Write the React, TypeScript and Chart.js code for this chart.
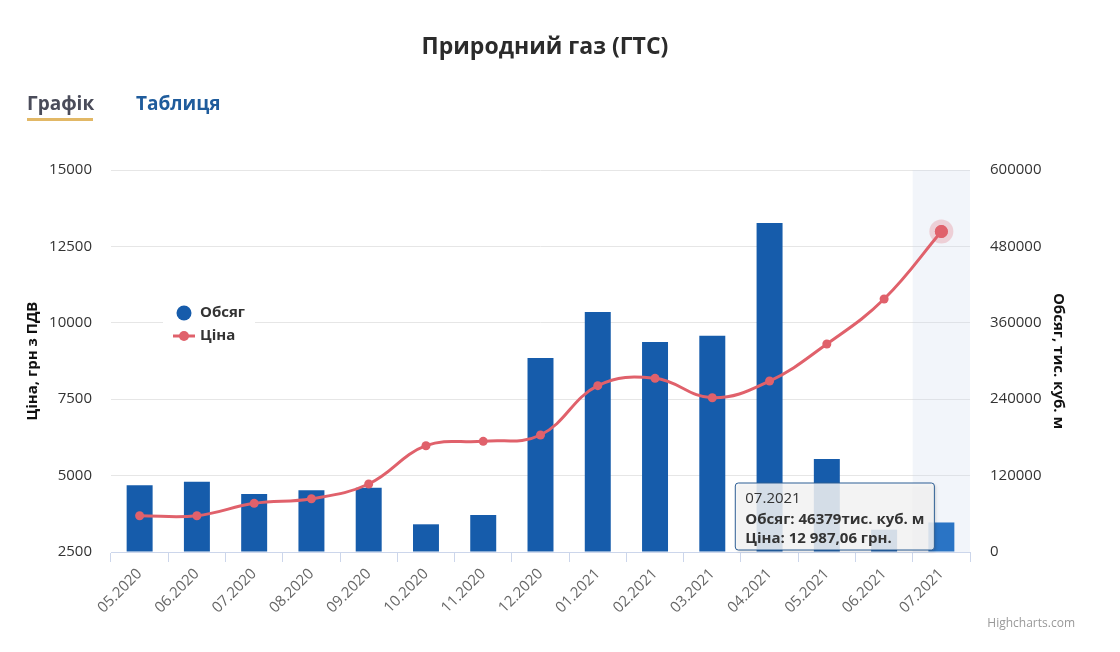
import React, { useEffect, useRef } from 'react';
import { Chart, registerables } from 'chart.js';

Chart.register(...registerables);

const categories = ['05.2020', '06.2020', '07.2020', '08.2020', '09.2020', '10.2020', '11.2020', '12.2020', '01.2021', '02.2021', '03.2021', '04.2021', '05.2021', '06.2021', '07.2021'];
const volumeValues = [104800, 110500, 91100, 96900, 101000, 43500, 58100, 304800, 377000, 330000, 339800, 516900, 146100, 35000, 46379];
const priceValues = [3688, 3688, 4093, 4244, 4725, 5978, 6122, 6328, 7942, 8183, 7548, 8094, 9306, 10778, 12987.06];
const priceTickMin = 2500;
const priceTickMax = 15000;
const priceTickStep = 2500;
const volumeTickMin = 0;
const volumeTickMax = 600000;
const volumeTickStep = 120000;
const activeIndex = 14;

const FONT = "'Open Sans', sans-serif";
const BAR_COLOR = '#165cab';
const BAR_HOVER = '#2a74c5';
const LINE_COLOR = '#e0616b';

function formatPrice(v: number): string {
  const [i, d] = v.toFixed(2).split('.');
  return i.replace(/\B(?=(\d{3})+(?!\d))/g, ' ') + ',' + d;
}

export default function App() {
  const ref = useRef<HTMLCanvasElement>(null);

  useEffect(() => {
    const canvas = ref.current!;

    const highlightPlugin = {
      id: 'highlightBand',
      beforeDatasetsDraw(chart: any) {
        const { ctx, chartArea, scales } = chart;
        const x = scales.x;
        const c = x.getPixelForValue(activeIndex);
        const w = chartArea.width / categories.length;
        ctx.save();
        ctx.fillStyle = 'rgba(204,214,235,0.25)';
        ctx.fillRect(c - w / 2, chartArea.top, w, chartArea.bottom - chartArea.top);
        ctx.restore();
      },
    };

    const haloPlugin = {
      id: 'halo',
      afterDatasetsDraw(chart: any) {
        const pt = chart.getDatasetMeta(1).data[activeIndex];
        if (!pt) return;
        const { ctx } = chart;
        ctx.save();
        ctx.fillStyle = 'rgba(224,97,107,0.25)';
        ctx.beginPath();
        ctx.arc(pt.x, pt.y, 12, 0, Math.PI * 2);
        ctx.fill();
        ctx.fillStyle = LINE_COLOR;
        ctx.beginPath();
        ctx.arc(pt.x, pt.y, 6.5, 0, Math.PI * 2);
        ctx.fill();
        ctx.restore();
      },
    };

    const legendPlugin = {
      id: 'floatLegend',
      afterDraw(chart: any) {
        const { ctx } = chart;
        ctx.save();
        ctx.fillStyle = '#ffffff';
        ctx.fillRect(155, 288, 92, 54);
        ctx.fillStyle = BAR_COLOR;
        ctx.beginPath();
        ctx.arc(176, 305, 7.5, 0, Math.PI * 2);
        ctx.fill();
        ctx.strokeStyle = LINE_COLOR;
        ctx.lineWidth = 3;
        ctx.beginPath();
        ctx.moveTo(165, 328);
        ctx.lineTo(187, 328);
        ctx.stroke();
        ctx.fillStyle = LINE_COLOR;
        ctx.beginPath();
        ctx.arc(176, 328, 5, 0, Math.PI * 2);
        ctx.fill();
        ctx.fillStyle = '#333333';
        ctx.font = `bold 15px ${FONT}`;
        ctx.textBaseline = 'middle';
        ctx.textAlign = 'left';
        ctx.fillText('Обсяг', 192, 305);
        ctx.fillText('Ціна', 192, 328);
        ctx.restore();
      },
    };

    const tooltipPlugin = {
      id: 'fixedTooltip',
      afterDraw(chart: any) {
        const pt = chart.getDatasetMeta(1).data[activeIndex];
        if (!pt) return;
        const { ctx, chartArea } = chart;
        const title = categories[activeIndex];
        const l1 = `Обсяг: ${volumeValues[activeIndex]}тис. куб. м`;
        const l2 = `Ціна: ${formatPrice(priceValues[activeIndex])} грн.`;
        ctx.save();
        ctx.font = `bold 15px ${FONT}`;
        const w1 = Math.max(ctx.measureText(l1).width, ctx.measureText(l2).width);
        ctx.font = `15px ${FONT}`;
        const wt = ctx.measureText(title).width;
        const bw = Math.max(w1, wt) + 20;
        const right = pt.x - 7;
        const left = right - bw;
        const bottom = chartArea.bottom - 2;
        const top = bottom - 67;
        const r = 3;
        const path = () => {
          ctx.beginPath();
          ctx.moveTo(left + r, top);
          ctx.lineTo(right - r, top);
          ctx.arcTo(right, top, right, top + r, r);
          ctx.lineTo(right, bottom - r);
          ctx.arcTo(right, bottom, right - r, bottom, r);
          ctx.lineTo(left + r, bottom);
          ctx.arcTo(left, bottom, left, bottom - r, r);
          ctx.lineTo(left, top + r);
          ctx.arcTo(left, top, left + r, top, r);
          ctx.closePath();
        };
        ctx.shadowColor = 'rgba(0,0,0,0.18)';
        ctx.shadowOffsetX = 1.5;
        ctx.shadowOffsetY = 1.5;
        ctx.shadowBlur = 3;
        path();
        ctx.fillStyle = 'rgba(247,247,247,0.85)';
        ctx.fill();
        ctx.shadowColor = 'transparent';
        ctx.lineWidth = 1;
        ctx.strokeStyle = '#2d5e95';
        path();
        ctx.stroke();
        ctx.fillStyle = '#333333';
        ctx.textAlign = 'left';
        ctx.textBaseline = 'middle';
        ctx.font = `15px ${FONT}`;
        ctx.fillText(title, left + 10, top + 16);
        ctx.font = `bold 15px ${FONT}`;
        ctx.fillText(l1, left + 10, top + 37);
        ctx.fillText(l2, left + 10, top + 56);
        ctx.restore();
      },
    };

    const barColors = categories.map((_, i) => (i === activeIndex ? BAR_HOVER : BAR_COLOR));
    const pointRadii = categories.map((_, i) => (i === activeIndex ? 6.5 : 4.5));

    const chart = new Chart(canvas, {
      type: 'bar',
      data: {
        labels: categories,
        datasets: [
          {
            type: 'bar',
            label: 'Обсяг',
            data: volumeValues,
            yAxisID: 'y1',
            backgroundColor: barColors,
            borderWidth: 0,
            categoryPercentage: 0.8,
            barPercentage: 0.567,
            order: 2,
          },
          {
            type: 'line',
            label: 'Ціна',
            data: priceValues,
            yAxisID: 'y',
            borderColor: LINE_COLOR,
            backgroundColor: LINE_COLOR,
            borderWidth: 3,
            pointRadius: pointRadii,
            pointBackgroundColor: LINE_COLOR,
            pointBorderWidth: 0,
            tension: 0.4,
            order: 1,
          } as any,
        ],
      },
      options: {
        responsive: false,
        animation: false,
        events: [],
        layout: { padding: { top: 162, left: 0, right: 0, bottom: 0 } },
        plugins: {
          legend: { display: false },
          tooltip: { enabled: false },
          title: { display: false },
        },
        scales: {
          x: {
            offset: true,
            afterFit: (s: any) => { s.height = 92; },
            grid: {
              offset: true,
              drawOnChartArea: false,
              drawTicks: true,
              tickLength: 10,
              color: '#ccd6eb',
            },
            border: { display: true, color: '#ccd6eb', width: 1 },
            ticks: {
              minRotation: 45,
              maxRotation: 45,
              autoSkip: false,
              padding: 3,
              color: '#666666',
              font: { family: FONT, size: 15 },
            },
          },
          y: {
            position: 'left',
            min: priceTickMin,
            max: priceTickMax,
            afterFit: (s: any) => { s.width = 103; },
            grid: { color: '#e6e6e6', drawTicks: false, lineWidth: 1 },
            border: { display: false },
            ticks: {
              stepSize: priceTickStep,
              padding: 19,
              color: '#333333',
              font: { family: FONT, size: 15 },
              callback: (v: any) => String(v),
            },
            title: {
              display: true,
              text: 'Ціна, грн з ПДВ',
              color: '#111111',
              font: { family: FONT, size: 15, weight: 'bold' },
              padding: { top: 16, bottom: 0 },
            },
          },
          y1: {
            position: 'right',
            min: volumeTickMin,
            max: volumeTickMax,
            afterFit: (s: any) => { s.width = 142; },
            grid: { drawOnChartArea: false, drawTicks: false },
            border: { display: false },
            ticks: {
              stepSize: volumeTickStep,
              padding: 20,
              color: '#333333',
              font: { family: FONT, size: 15 },
              callback: (v: any) => String(v),
            },
            title: {
              display: true,
              text: 'Обсяг, тис. куб. м',
              color: '#111111',
              font: { family: FONT, size: 15, weight: 'bold' },
              padding: { top: 45, bottom: 0 },
            },
          },
        },
      } as any,
      plugins: [highlightPlugin, haloPlugin, legendPlugin, tooltipPlugin],
    });

    return () => chart.destroy();
  }, []);

  return (
    <div style={{ position: 'relative', width: 1104, height: 636, fontFamily: FONT }}>
      <canvas ref={ref} width={1104} height={636} style={{ position: 'absolute', left: 0, top: 0 }} />
      <div style={{ position: 'absolute', left: 0, top: 22, width: 1074, textAlign: 'center', fontSize: 23, fontWeight: 700, lineHeight: '30px', color: '#2b2b2b' }}>
        Природний газ (ГТС)
      </div>
      <div style={{ position: 'absolute', left: 19, top: 83, fontSize: 19, fontWeight: 700, lineHeight: '24px', color: '#4a4c5a' }}>Графік</div>
      <div style={{ position: 'absolute', left: 19, top: 110, width: 66, height: 3, background: '#e2b866' }} />
      <div style={{ position: 'absolute', left: 128, top: 83, fontSize: 19, fontWeight: 700, lineHeight: '24px', color: '#1f5c9c' }}>Таблиця</div>
      <div style={{ position: 'absolute', left: 900, width: 167, top: 607, textAlign: 'right', fontSize: 12, lineHeight: '16px', color: '#999999' }}>Highcharts.com</div>
    </div>
  );
}
